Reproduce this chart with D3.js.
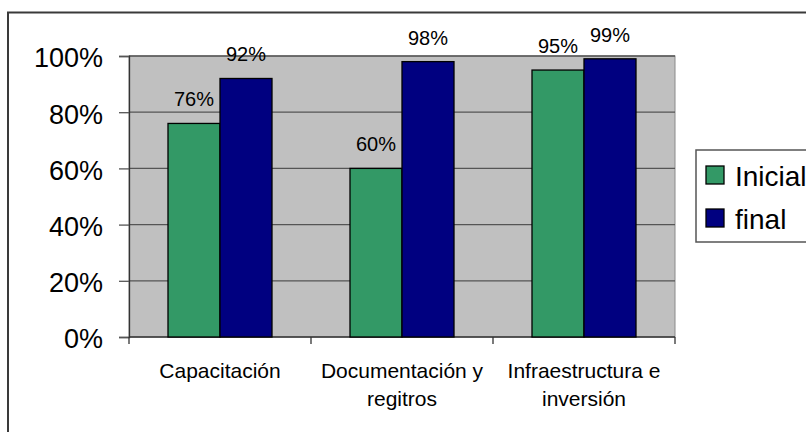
<!DOCTYPE html>
<html>
<head>
<meta charset="utf-8">
<script src="https://cdn.jsdelivr.net/npm/d3@7"></script>
<style>
  body { margin: 0; background: #fff; }
  text { font-family: "Liberation Sans", Arial, sans-serif; fill: #000; }
</style>
</head>
<body>
<div id="chart"></div>
<script>
// Data
const categories = [["Capacitación"], ["Documentación y", "regitros"], ["Infraestructura e", "inversión"]]
const series = ["Inicial", "final"]
const inicial = [0.76, 0.60, 0.95]
const final = [0.92, 0.98, 0.99]
const yTicks = [0, 0.2, 0.4, 0.6, 0.8, 1]
const colors = ["#339966", "#000080"]

function draw() {
  const dimensions = {
    width: 806,
    height: 432,
    left: 129,
    right: 675,
    top: 56,
    bottom: 337
  }

  const svg = d3.select('#chart')
    .append("svg")
    .attr("width", dimensions.width)
    .attr("height", dimensions.height)

  // chart area border (clipped by the window on right / bottom)
  svg.append("rect")
    .attr("x", 8).attr("y", 12.5)
    .attr("width", 900).attr("height", 600)
    .attr("fill", "#fff")
    .attr("stroke", "#3a3a3a")
    .attr("stroke-width", 2)

  const catKeys = categories.map(d => d.join(" "))

  const xScale = d3.scaleBand()
    .domain(catKeys)
    .range([dimensions.left, dimensions.right])

  const xInner = d3.scaleBand()
    .domain(series)
    .range([0, xScale.bandwidth()])
    .paddingOuter(0.75)

  const yScale = d3.scaleLinear()
    .domain([0, 1])
    .range([dimensions.bottom, dimensions.top])

  // plot background
  svg.append("rect")
    .attr("x", dimensions.left)
    .attr("y", dimensions.top)
    .attr("width", dimensions.right - dimensions.left)
    .attr("height", dimensions.bottom - dimensions.top)
    .attr("fill", "#c0c0c0")
    .attr("stroke", "#8a8a8a")
    .attr("stroke-width", 1)

  // gridlines
  svg.append("g")
    .selectAll("line")
    .data(yTicks.filter(d => d > 0))
    .join("line")
    .attr("x1", dimensions.left)
    .attr("x2", dimensions.right)
    .attr("y1", d => yScale(d))
    .attr("y2", d => yScale(d))
    .attr("stroke", "#555")
    .attr("stroke-width", 1.3)

  // y axis
  const yAxis = d3.axisLeft(yScale)
    .tickValues(yTicks)
    .tickFormat(d3.format(".0%"))
    .tickSize(10)
    .tickPadding(16)

  const yAxisGroup = svg.append("g")
    .attr("transform", `translate(${dimensions.left}, 0)`)
    .call(yAxis)
  yAxisGroup.select(".domain").attr("stroke", "#333").attr("stroke-width", 1.3)
  yAxisGroup.selectAll(".tick line").attr("stroke", "#555").attr("stroke-width", 1.3)
  yAxisGroup.selectAll(".tick text")
    .attr("font-size", 27)
    .attr("font-family", "Liberation Sans, Arial, sans-serif")
    .attr("fill", "#000")
    .attr("dy", "0.4em")

  // x axis line and boundary ticks
  const xAxisGroup = svg.append("g")
  xAxisGroup.append("line")
    .attr("x1", dimensions.left).attr("x2", dimensions.right)
    .attr("y1", dimensions.bottom).attr("y2", dimensions.bottom)
    .attr("stroke", "#333").attr("stroke-width", 1.3)
  const bounds = catKeys.map(d => xScale(d)).concat([xScale(catKeys[catKeys.length - 1]) + xScale.bandwidth()])
  xAxisGroup.selectAll(".xtick")
    .data(bounds)
    .join("line")
    .attr("class", "xtick")
    .attr("x1", d => d).attr("x2", d => d)
    .attr("y1", dimensions.bottom).attr("y2", dimensions.bottom + 7)
    .attr("stroke", "#333").attr("stroke-width", 1.3)

  // category labels
  const catLabels = xAxisGroup.selectAll(".cat")
    .data(categories)
    .join("text")
    .attr("class", "cat")
    .attr("text-anchor", "middle")
    .attr("font-size", 21)
    .attr("x", (d, i) => xScale(catKeys[i]) + xScale.bandwidth() / 2)
    .attr("y", 378)
  catLabels.selectAll("tspan")
    .data((d, i) => d.map(line => ({ line, i })))
    .join("tspan")
    .attr("x", d => xScale(catKeys[d.i]) + xScale.bandwidth() / 2)
    .attr("dy", (d, j) => j === 0 ? 0 : 28)
    .text(d => d.line)

  // bars
  const rows = catKeys.map((c, i) => ({ c, values: [inicial[i], final[i]] }))
  const groups = svg.append("g")
    .selectAll("g")
    .data(rows)
    .join("g")
    .attr("transform", d => `translate(${xScale(d.c)}, 0)`)

  groups.selectAll("rect")
    .data(d => d.values.map((v, k) => ({ s: series[k], v, k })))
    .join("rect")
    .attr("x", d => xInner(d.s))
    .attr("y", d => yScale(d.v))
    .attr("width", xInner.bandwidth())
    .attr("height", d => yScale(0) - yScale(d.v))
    .attr("fill", d => colors[d.k])
    .attr("stroke", "#000")
    .attr("stroke-width", 1.3)

  groups.selectAll("text")
    .data(d => d.values.map((v, k) => ({ s: series[k], v, k })))
    .join("text")
    .attr("x", d => xInner(d.s) + xInner.bandwidth() / 2)
    .attr("y", d => yScale(d.v) - 17)
    .attr("text-anchor", "middle")
    .attr("font-size", 20)
    .text(d => d3.format(".0%")(d.v))

  // legend
  const legend = svg.append("g")
  legend.append("rect")
    .attr("x", 696).attr("y", 150)
    .attr("width", 140).attr("height", 92)
    .attr("fill", "#fff")
    .attr("stroke", "#555").attr("stroke-width", 1.5)

  const items = legend.selectAll(".item")
    .data(series)
    .join("g")
    .attr("class", "item")
    .attr("transform", (d, i) => `translate(706, ${166 + i * 43})`)
  items.append("rect")
    .attr("width", 18).attr("height", 18)
    .attr("fill", (d, i) => colors[i])
    .attr("stroke", "#000").attr("stroke-width", 1.3)
  items.append("text")
    .attr("x", 29).attr("y", 20)
    .attr("font-size", 28)
    .text(d => d)
}

draw()
</script>
</body>
</html>
